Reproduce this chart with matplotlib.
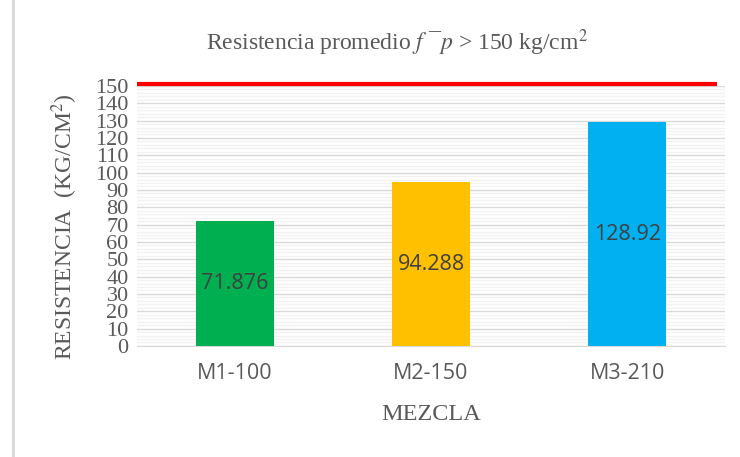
import matplotlib
matplotlib.use("Agg")
import matplotlib.pyplot as plt
from matplotlib.lines import Line2D
from matplotlib.ticker import MultipleLocator

CATEGORIES = ["M1-100", "M2-150", "M3-210"]
VALUES = [71.876, 94.288, 128.92]
VALUE_LABELS = ["71.876", "94.288", "128.92"]
COLORS = ["#00B050", "#FFC000", "#00B0F0"]
LIMIT = 150

SERIF = ["Liberation Serif", "DejaVu Serif"]
SANS = ["Open Sans", "DejaVu Sans"]
TEXT_GREY = "#595959"

plt.rcParams["mathtext.fontset"] = "stix"

fig = plt.figure(figsize=(7.4, 4.57), dpi=100)
ax = fig.add_axes([0.185, 0.243, 0.795, 0.569])

x = range(len(CATEGORIES))
bars = ax.bar(x, VALUES, width=0.4, color=COLORS, zorder=3)

for bar, label in zip(bars, VALUE_LABELS):
    ax.text(bar.get_x() + bar.get_width() / 2, bar.get_height() / 2, label,
            ha="center", va="center", fontsize=15.5, color="#404040",
            family=SANS, zorder=4)

# Linea limite
ax.plot([-0.5, 2.46], [LIMIT + 1, LIMIT + 1], color="#FF0000", lw=3,
        solid_capstyle="butt", zorder=5, clip_on=False)

ax.set_xlim(-0.5, 2.5)
ax.set_ylim(0, 150)
ax.yaxis.set_major_locator(MultipleLocator(10))
ax.yaxis.set_minor_locator(MultipleLocator(2))
ax.grid(axis="y", which="major", color="#d9d9d9", lw=1.0, zorder=0)
ax.grid(axis="y", which="minor", color="#f2f2f2", lw=1.0, zorder=0)
ax.set_axisbelow(True)

for side in ["top", "right", "left"]:
    ax.spines[side].set_visible(False)
ax.spines["bottom"].set_color("#d9d9d9")

ax.set_xticks(list(x))
ax.set_xticklabels(CATEGORIES, family=SANS, fontsize=15.5, color=TEXT_GREY)
ax.tick_params(axis="x", length=0, pad=12)
ax.tick_params(axis="y", which="both", length=0, pad=6, labelsize=16,
               labelcolor=TEXT_GREY)
for lbl in ax.get_yticklabels():
    lbl.set_family(SERIF)

ax.set_ylabel("RESISTENCIA  (KG/CM$^{2}$)", family=SERIF, fontsize=17,
              color=TEXT_GREY)
ax.yaxis.set_label_coords(-0.097, 0.46)
ax.set_xlabel("MEZCLA", family=SERIF, fontsize=17.5, color=TEXT_GREY,
              labelpad=15)

fig.text(0.537, 0.907, "Resistencia promedio $f$ \u00af$p$ > 150 kg/cm$^{2}$",
         ha="center", va="center", family=SERIF, fontsize=17, color=TEXT_GREY)

fig.add_artist(Line2D([0.0169, 0.0169], [0.0, 1.0], color="#d9d9d9", lw=2,
                      transform=fig.transFigure))

fig.savefig("out.png", dpi=100)
